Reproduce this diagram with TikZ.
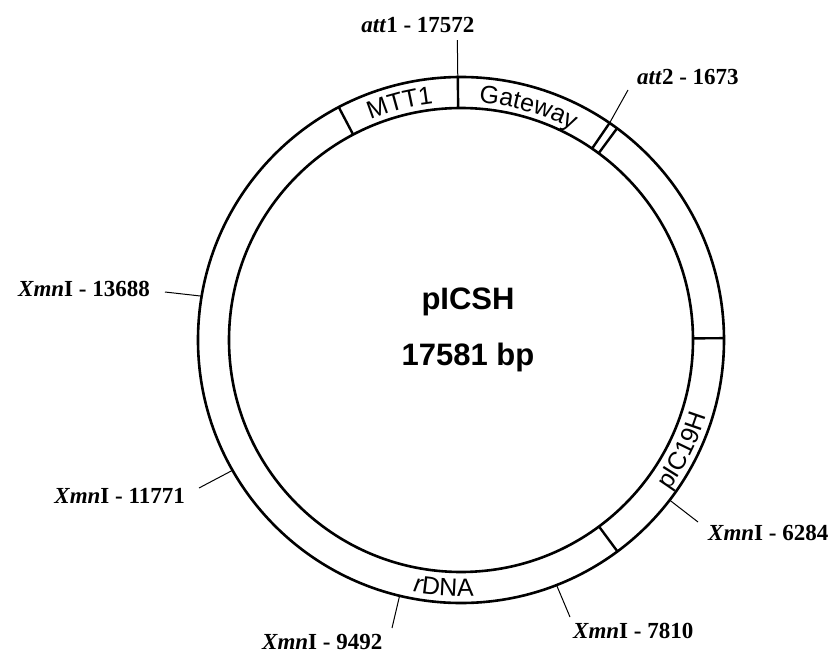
\documentclass[tikz,border=0pt]{standalone}
\usepackage{fontspec}
\setmainfont{Liberation Serif}
\setsansfont{Liberation Sans}
\usetikzlibrary{decorations.text}
\newcommand{\xmn}{\textit{Xmn}I}
\newcommand{\segfont}{\sffamily\fontsize{25}{25}\selectfont}

\begin{document}
\begin{tikzpicture}[x=1pt, y=1pt,
    ring/.style={line width=2.6pt},
    divider/.style={line width=2.4pt},
    lead/.style={line width=1pt},
    site/.style={font=\fontsize{23}{27}\selectfont\bfseries, inner sep=0pt},
    title/.style={font=\sffamily\bfseries\fontsize{31}{34}\selectfont, inner sep=0pt}]
    \useasboundingbox (-461,-316) rectangle (376,340);

    % Backbone rings
    \draw[ring] (0,0) circle[radius=263];
    \draw[ring] (0,0) circle[radius=232];

    % Segment borders
    \draw[divider] (117.7:232) -- (117.7:263);
    \draw[divider] (55.6:232) -- (55.6:263);
    \draw[divider] (53.6:232) -- (53.6:263);
    \draw[divider] (0.4:232) -- (0.4:263);
    \draw[divider] (306.5:232) -- (306.5:263);

    % Segment names
    \path[decorate, decoration={text along path, text align=center,
        text={|\segfont|MTT1}}]
        (124.5:238) arc[start angle=124.5, end angle=84.5, radius=238];
    \path[decorate, decoration={text along path, text align=center,
        text={|\segfont|Gateway}}]
        (95:238) arc[start angle=95, end angle=52.6, radius=238];
    \path[decorate, decoration={text along path, text align=center,
        text={|\segfont|pIC19H}}]
        (-50:257) arc[start angle=-50, end angle=-3, radius=257];
    \path[decorate, decoration={text along path, text align=center,
        text={|\segfont\itshape|r|\segfont\upshape|DNA}}]
        (246:256) arc[start angle=246, end angle=286, radius=256];

    % att sites
    \coordinate (r1) at (90.7:232);
    \coordinate (e1) at (90.7:300);
    \draw[divider] (r1) -- (90.7:263);
    \draw[lead] (r1) -- (e1);
    \node[site, anchor=base] (att1) at (-43,307) {\textit{att}1 - 17572};

    \coordinate (r2) at (55.6:263);
    \coordinate (e2) at (167,250);
    \draw[lead] (r2) -- (e2);
    \node[site, anchor=base west] (att2) at (176,255) {\textit{att}2 - 1673};

    % XmnI sites
    \coordinate (r13688) at (170.4:263);
    \coordinate (e13688) at (-296,48);
    \draw[lead] (r13688) -- (e13688);
    \node[site, anchor=base east] (x13688) at (-311,44) {\xmn{} - 13688};

    \coordinate (r11771) at (209.7:263);
    \coordinate (e11771) at (-262,-148);
    \draw[lead] (r11771) -- (e11771);
    \node[site, anchor=base east] (x11771) at (-276,-163) {\xmn{} - 11771};

    \coordinate (r9492) at (256.5:263);
    \coordinate (e9492) at (-69,-288);
    \draw[lead] (r9492) -- (e9492);
    \node[site, anchor=base west] (x9492) at (-199,-309) {\xmn{} - 9492};

    \coordinate (r7810) at (291.3:263);
    \coordinate (e7810) at (109,-277);
    \draw[lead] (r7810) -- (e7810);
    \node[site, anchor=base west] (x7810) at (112,-298) {\xmn{} - 7810};

    \coordinate (r6284) at (322.5:263);
    \coordinate (e6284) at (237,-182);
    \draw[lead] (r6284) -- (e6284);
    \node[site, anchor=base west] (x6284) at (247,-200) {\xmn{} - 6284};

    % Plasmid name and size
    \node[title] (name) at (7,38) {pICSH};
    \node[title] (size) at (7,-17) {17581 bp};
\end{tikzpicture}
\end{document}
